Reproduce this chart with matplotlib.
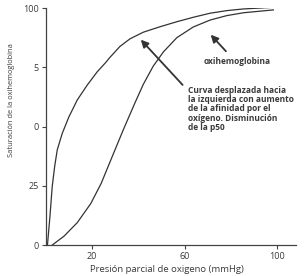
import numpy as np
import matplotlib
matplotlib.use('Agg')
import matplotlib.pyplot as plt

# datos (mmHg, % saturacion)
p_izq = [0.8, 1.86, 2.85, 3.89, 5.02, 7.18, 10.08, 13.67, 17.99, 22.31,
         25.95, 27.81, 32.13, 36.45, 42.21, 49.43, 56.65, 63.83, 71.05,
         78.27, 85.45, 98.42]
s_izq = [0, 11.9, 24.6, 33.0, 40.1, 47.1, 54.1, 61.2, 67.5, 73.1,
         77.0, 79.2, 83.8, 87.0, 89.8, 92.1, 94.2, 96.1, 97.8,
         98.9, 99.6, 100.3]

p_norm = [2.85, 8.0, 13.7, 19.5, 24.0, 28.0, 33.5, 38.6, 42.2, 46.5,
          50.9, 56.7, 63.8, 71.0, 78.3, 85.5, 98.4]
s_norm = [0, 3.8, 9.5, 17.5, 26.0, 35.5, 48.5, 60.0, 67.8, 75.5,
          81.5, 87.5, 92.0, 94.9, 96.8, 98.0, 99.2]

x_ticks = [20, 60, 100]
y_ticks = [0, 25, 50, 75, 100]
y_ticklabels = ['0', '25', '0', '5', '100']

txt_col = '#3a3a3a'
plt.rcParams['font.family'] = ['Open Sans', 'DejaVu Sans']

fig = plt.figure(figsize=(3.04, 2.76), dpi=100)
ax = fig.add_axes([0.150, 0.112, 0.824, 0.859])

ax.plot(p_izq, s_izq, color='#333333', linewidth=0.9)
ax.plot(p_norm, s_norm, color='#333333', linewidth=0.9)

ax.set_xlim(0, 108.2)
ax.set_ylim(0, 100)
ax.set_xticks(x_ticks)
ax.set_yticks(y_ticks)
ax.set_yticklabels(y_ticklabels)
for s in ['top', 'right']:
    ax.spines[s].set_visible(False)
for s in ['left', 'bottom']:
    ax.spines[s].set_color('#444444')
    ax.spines[s].set_linewidth(0.9)
ax.tick_params(length=3, width=0.8, color='#444444', labelsize=6.5,
               labelcolor=txt_col, pad=2)

ax.set_xlabel('Presión parcial de oxigeno (mmHg)', fontsize=6.8,
              color=txt_col)
ax.xaxis.set_label_coords(0.483, -0.085)
ax.set_ylabel('Saturación de la oxihemoglobina', fontsize=5.4,
              color=txt_col)
ax.yaxis.set_label_coords(-0.122, 0.612)

# flechas
ax.annotate('', xy=(40.3, 87.5), xytext=(60.0, 66.7),
            arrowprops=dict(arrowstyle='-|>', color='#333333', lw=1.3,
                            mutation_scale=11))
ax.annotate('', xy=(70.5, 89.6), xytext=(78.7, 80.9),
            arrowprops=dict(arrowstyle='-|>', color='#333333', lw=1.3,
                            mutation_scale=11))

ax.text(82.7, 77.3, 'oxihemoglobina', fontsize=6, fontweight='bold',
        color=txt_col, ha='center', va='center')
ax.text(61.6, 67.3,
        'Curva desplazada hacia\nla izquierda con aumento\n'
        'de la afinidad por el\noxígeno. Disminución\nde la p50',
        fontsize=6, fontweight='bold', color=txt_col, ha='left', va='top',
        linespacing=1.05)

fig.savefig('out.png', dpi=100)
